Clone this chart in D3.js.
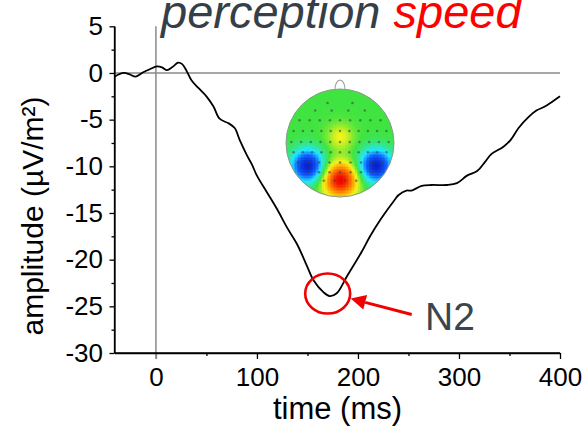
<!DOCTYPE html>
<html>
<head>
<meta charset="utf-8">
<script src="https://cdn.jsdelivr.net/npm/d3@7"></script>
<style>
  html, body { margin: 0; padding: 0; background: #fff; }
  svg { display: block; }
  text { font-family: "Liberation Sans", Arial, sans-serif; }
</style>
</head>
<body>
<svg id="chart" width="588" height="426"></svg>
<script>
// ---- data ----
const times = [-41, -32, -26, -20, -13, -6, 1, 6, 11, 16, 22, 26, 30, 35, 42, 50, 57, 63, 72, 78, 83, 90, 95, 100, 110, 120, 130, 140, 150, 156, 166, 172, 179, 189, 204, 212, 223, 237, 240, 248, 253, 263, 273, 288, 298, 308, 318, 326, 332, 344, 351, 359, 369, 377, 385, 392, 400];
const amplitudes = [-0.4, 0.0, -0.15, -0.4, 0.05, 0.4, 0.7, 0.6, 0.3, 0.6, 1.1, 0.95, 0.3, -0.75, -1.6, -2.5, -3.6, -4.9, -5.4, -5.9, -7.2, -8.8, -9.8, -11.0, -12.8, -14.6, -16.6, -18.4, -20.8, -22.2, -23.5, -23.9, -23.6, -21.8, -19.1, -17.5, -15.6, -13.5, -13.1, -12.6, -12.6, -12.1, -12.0, -12.0, -11.8, -11.0, -10.5, -9.5, -8.7, -7.9, -7.2, -5.9, -4.7, -4.0, -3.6, -3.1, -2.5];
const xTicks = [0, 100, 200, 300, 400];
const xMinorTicks = [50, 150, 250, 350];
const yTicks = [5, 0, -5, -10, -15, -20, -25, -30];
const yMinorTicks = [2.5, -2.5, -7.5, -12.5, -17.5, -22.5, -27.5];
const titleParts = ["perception", "speed"];
const peakLabel = "N2";
const peakTime = 172, peakAmp = -23.9;
// scalp map sources: [x, y (in head radii), strength, spread]
const mapSources = [[0, 0.68, 1.0, 0.23], [-0.6, 0.42, -1.0, 0.21], [0.66, 0.42, -1.0, 0.21], [0, -0.12, 0.3, 0.17]];
// electrode rows: [y (head radii), half-width, count]
const electrodeRows = [[-0.74, 0.23, 2], [-0.6, 0.46, 4], [-0.42, 0.75, 9], [-0.22, 0.86, 11], [-0.02, 0.9, 11], [0.17, 0.86, 11], [0.36, 0.78, 9], [0.54, 0.58, 7], [0.7, 0.3, 4]];

// ---- layout ----
const svg = d3.select("#chart");
const x = d3.scaleLinear().domain([-41, 400]).range([114.5, 560]);
const y = d3.scaleLinear().domain([-30, 5]).range([353, 26.3]);
const slate = "#353f4a";
const fmt = d => String(d);

// zero lines
svg.append("line").attr("x1", x(0)).attr("x2", x(0)).attr("y1", y(5)).attr("y2", y(-30) + 6)
  .attr("stroke", "#8a8a8a").attr("stroke-width", 1.5);
svg.append("line").attr("x1", x(-41)).attr("x2", x(400)).attr("y1", y(0)).attr("y2", y(0))
  .attr("stroke", "#8a8a8a").attr("stroke-width", 1.5);

// axes
const yAxis = svg.append("g").attr("transform", `translate(${x(-41)},0)`)
  .call(d3.axisLeft(y).tickValues(yTicks).tickSize(5).tickSizeOuter(0).tickPadding(6.5).tickFormat(fmt));
const yMinor = svg.append("g").attr("transform", `translate(${x(-41)},0)`)
  .call(d3.axisLeft(y).tickValues(yMinorTicks).tickSize(3).tickSizeOuter(0).tickFormat(""));
const xAxis = svg.append("g").attr("transform", `translate(0,${y(-30)})`)
  .call(d3.axisBottom(x).tickValues(xTicks).tickSize(6).tickSizeOuter(0).tickPadding(9).tickFormat(fmt));
const xMinor = svg.append("g").attr("transform", `translate(0,${y(-30)})`)
  .call(d3.axisBottom(x).tickValues(xMinorTicks).tickSize(3).tickSizeOuter(0).tickFormat(""));
[yAxis, yMinor, xAxis, xMinor].forEach(g => {
  g.select(".domain").attr("stroke", "#000").attr("stroke-width", 1.3);
  g.selectAll(".tick line").attr("stroke", "#000").attr("stroke-width", 1.3);
  g.selectAll("text").attr("font-size", 26).attr("fill", "#000")
    .attr("font-family", "'Liberation Sans', Arial, sans-serif");
});
xAxis.select(".tick line").attr("stroke", "#8a8a8a").attr("stroke-width", 1.5);
yAxis.select(".domain").attr("d", `M0,${y(5)}V${y(-30)}`);
xAxis.select(".domain").attr("d", `M${x(-41)},0H${x(400)}`);

// ---- scalp map ----
const head = { cx: 340, cy: 143, r: 54 };
const jet = d3.scaleLinear()
  .domain([-1, -0.65, -0.35, 0, 0.3, 0.6, 1])
  .range(["#0a1fc8", "#1060ff", "#20e8ff", "#40e440", "#f4f41a", "#ff8a00", "#f00000"])
  .clamp(true);
const defs = svg.append("defs");
defs.append("clipPath").attr("id", "headClip")
  .append("circle").attr("cx", head.cx).attr("cy", head.cy).attr("r", head.r);
const cell = 1.5;
const cells = [];
for (let py = head.cy - head.r; py < head.cy + head.r; py += cell) {
  for (let px = head.cx - head.r; px < head.cx + head.r; px += cell) {
    const u = (px + cell / 2 - head.cx) / head.r, v = (py + cell / 2 - head.cy) / head.r;
    if (u * u + v * v > 1.08) continue;
    let val = 0;
    mapSources.forEach(([sx, sy, a, s]) => {
      const d2 = (u - sx) ** 2 + (v - sy) ** 2;
      val += a * Math.exp(-d2 / (2 * s * s));
    });
    cells.push({ px, py, val });
  }
}
const mapG = svg.append("g").attr("clip-path", "url(#headClip)");
mapG.selectAll("rect").data(cells).join("rect")
  .attr("x", d => d.px).attr("y", d => d.py).attr("width", cell + 0.3).attr("height", cell + 0.3)
  .attr("fill", d => jet(d.val)).attr("shape-rendering", "crispEdges");
// electrodes
const dots = [];
electrodeRows.forEach(([ry, hw, n]) => {
  for (let i = 0; i < n; i++) {
    const rx = n === 1 ? 0 : -hw + (2 * hw * i) / (n - 1);
    dots.push([head.cx + rx * head.r, head.cy + ry * head.r]);
  }
});
svg.append("g").selectAll("circle").data(dots).join("circle")
  .attr("cx", d => d[0]).attr("cy", d => d[1]).attr("r", 1.25)
  .attr("fill", "#3a4a3a").attr("opacity", 0.6);
svg.append("circle").attr("cx", head.cx).attr("cy", head.cy).attr("r", head.r)
  .attr("fill", "none").attr("stroke", "#8a9a8a").attr("stroke-width", 1);
svg.append("path")
  .attr("d", `M${head.cx - 5},${head.cy - head.r + 0.5} C${head.cx - 5},${head.cy - head.r - 12} ${head.cx + 5},${head.cy - head.r - 12} ${head.cx + 5},${head.cy - head.r + 0.5}`)
  .attr("fill", "none").attr("stroke", "#a0a0a0").attr("stroke-width", 1.2);

// ---- ERP curve ----
const series = times.map((t, i) => ({ t, a: amplitudes[i] }));
const line = d3.line().x(d => x(d.t)).y(d => y(d.a)).curve(d3.curveCatmullRom.alpha(0.5));
svg.append("path").datum(series).attr("d", line)
  .attr("fill", "none").attr("stroke", "#000").attr("stroke-width", 1.8).attr("stroke-linejoin", "round");

// ---- N2 annotation ----
const ex = x(peakTime) - 2, ey = y(peakAmp) - 2.5;
svg.append("ellipse").attr("cx", ex).attr("cy", ey).attr("rx", 22.5).attr("ry", 20)
  .attr("fill", "none").attr("stroke", "#f00000").attr("stroke-width", 2.6);
const tipX = ex + 23, tipY = ey + 5;
const tailX = ex + 84, tailY = ey + 21;
const ang = Math.atan2(tipY - tailY, tipX - tailX);
const hl = 15, hw = 7.5;
const bx = tipX - hl * Math.cos(ang), by = tipY - hl * Math.sin(ang);
svg.append("line").attr("x1", tailX).attr("y1", tailY).attr("x2", bx).attr("y2", by)
  .attr("stroke", "#f00000").attr("stroke-width", 3);
svg.append("path")
  .attr("d", `M${tipX},${tipY}L${bx + hw * Math.sin(ang)},${by - hw * Math.cos(ang)}L${bx - hw * Math.sin(ang)},${by + hw * Math.cos(ang)}Z`)
  .attr("fill", "#f00000");
svg.append("text").attr("x", 425).attr("y", 330).attr("font-size", 39).attr("fill", "#3a4550")
  .text(peakLabel);

// ---- titles ----
const title = svg.append("text").attr("x", 161).attr("y", 28).attr("font-size", 47)
  .attr("font-style", "italic");
title.append("tspan").attr("fill", slate).text(titleParts[0] + " ");
title.append("tspan").attr("fill", "#ff0000").text(titleParts[1]);

svg.append("text").attr("x", 337.5).attr("y", 419).attr("text-anchor", "middle")
  .attr("font-size", 31).attr("fill", "#000").text("time (ms)");
svg.append("text").attr("transform", "translate(43,216) rotate(-90)").attr("text-anchor", "middle")
  .attr("font-size", 30).attr("fill", "#000").text("amplitude (µV/m²)");
</script>
</body>
</html>
